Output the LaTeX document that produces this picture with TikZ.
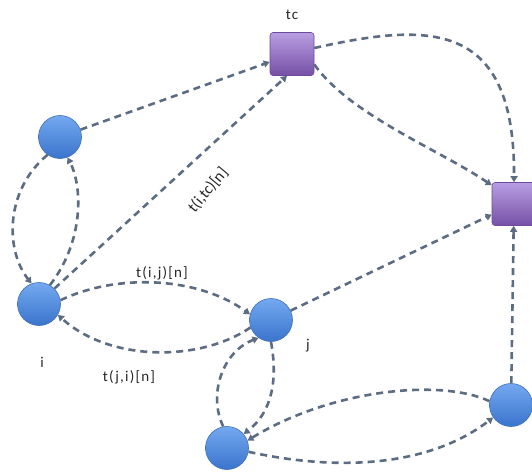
\documentclass[tikz,border=0pt]{standalone}
\usepackage{fontspec}
\setmainfont{Carlito}
\usetikzlibrary{arrows.meta,calc}
\definecolor{edgec}{HTML}{5C6C82}
\definecolor{ballTop}{HTML}{74A9F0}
\definecolor{ballBot}{HTML}{3A74CC}
\definecolor{ballEdge}{HTML}{3D6FB8}
\definecolor{sqTop}{HTML}{B89EE2}
\definecolor{sqBot}{HTML}{7650A6}
\definecolor{sqEdge}{HTML}{6E4A9C}
\begin{document}
\begin{tikzpicture}[x=1pt,y=-1pt,
  ball/.style={circle,minimum size=43pt,inner sep=0pt,top color=ballTop,bottom color=ballBot,draw=ballEdge,line width=0.6pt},
  sq/.style={rectangle,rounded corners=3pt,minimum width=44pt,minimum height=43pt,inner sep=0pt,top color=sqTop,bottom color=sqBot,draw=sqEdge,line width=0.6pt},
  conn/.style={draw=edgec,line width=2.6pt,dash pattern=on 7pt off 5pt,-{Triangle[length=6pt,width=7pt]}},
  lbl/.style={font=\fontsize{15}{17}\selectfont\addfontfeature{LetterSpace=8},text=black!85,inner sep=1pt},
  rlbl/.style={font=\fontsize{16}{18}\selectfont,text=black!85,inner sep=1pt}]
\useasboundingbox (0,0) rectangle (532,473);
\node[ball] (A) at (60,137) {};
\node[sq] (tc) at (292,54) {};
\node[sq] (R) at (514,204) {};
\node[ball] (i) at (39,304) {};
\node[ball] (j) at (271,320) {};
\node[ball] (B) at (227,448) {};
\node[ball] (C) at (511,405) {};
\node[lbl] (ltc) at (292,15) {tc};
\node[lbl] (li) at (42,362) {i};
\node[lbl] (lj) at (308,346) {j};
\node[lbl] (lij) at (162,273) {t(i,j)[n]};
\node[lbl] (lji) at (129,377) {t(j,i)[n]};
\node[rlbl,rotate=50] (litc) at (208,190) {t(i,tc)[n]};
\draw[conn] (A) -- (tc);
\draw[conn] (i.45) -- ($(tc.south)+(-5,0)$);
\draw[conn] (A.235) .. controls (5,190) and (5,250) .. (i.110);
\draw[conn] (i.60) .. controls (85,240) and (82,185) .. (A.290);
\draw[conn] (i.10) .. controls (120,272) and (200,278) .. (j.165);
\draw[conn] (j.200) .. controls (200,362) and (110,362) .. (i.-30);
\draw[conn] (j) -- (R);
\draw[conn] (tc.-25) .. controls (350,115) and (440,150) .. (R.140);
\draw[conn] (tc.15) .. controls (430,22) and (515,20) .. (R.north);
\draw[conn] (C) -- (R);
\draw[conn] (B.100) .. controls (208,395) and (222,352) .. (j.235);
\draw[conn] (j.270) .. controls (278,380) and (272,412) .. (B.40);
\draw[conn] (C.170) .. controls (440,378) and (330,390) .. (B.20);
\draw[conn] (B.-10) .. controls (340,472) and (430,466) .. (C.215);
\end{tikzpicture}
\end{document}
